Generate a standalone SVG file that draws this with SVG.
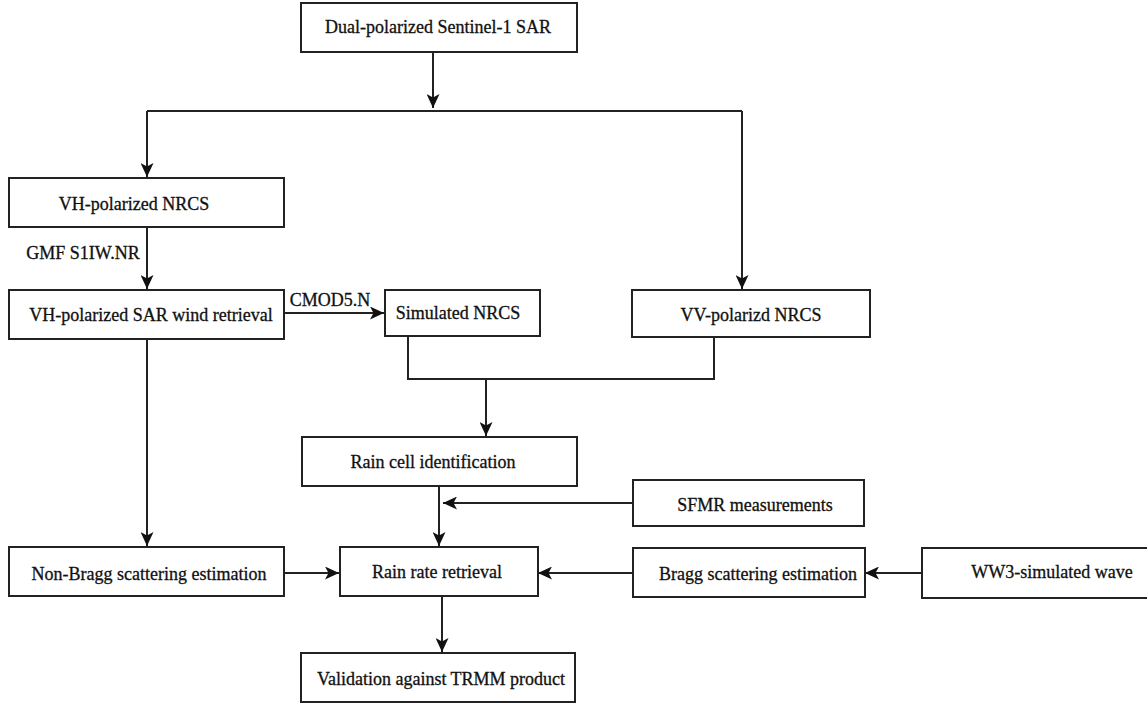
<svg xmlns="http://www.w3.org/2000/svg" width="1147" height="707" viewBox="0 0 1147 707">
<style>
.box{fill:#fff;stroke:#222;stroke-width:2}
.t{font-family:"Liberation Serif","Times New Roman",serif;font-size:18px;fill:#111;stroke:#111;stroke-width:0.3;text-anchor:middle}
.c{fill:none;stroke:#222;stroke-width:2}
.a{marker-end:url(#arr)}
</style>
<defs>
<marker id="arr" markerUnits="userSpaceOnUse" markerWidth="15" markerHeight="13" viewBox="0 0 15 13" refX="14" refY="6.5" orient="auto">
<path d="M0,0 L14,6.5 L0,13 L3.5,6.5 z" fill="#111"/>
</marker>
</defs>
<rect width="1147" height="707" fill="#fff"/>
<g id="connectors">
<path class="c a" d="M433,52 V108"/>
<path class="c" d="M147,111 H742"/>
<path class="c a" d="M147,111 V177"/>
<path class="c a" d="M742,111 V289"/>
<path class="c a" d="M147,227 V289"/>
<text class="t" x="83" y="259">GMF S1IW.NR</text>
<path class="c a" d="M284,313 H384"/>
<text class="t" x="330" y="306">CMOD5.N</text>
<path class="c" d="M408,336 V379 H714 V337"/>
<path class="c a" d="M486,379 V436"/>
<path class="c a" d="M147,339 V546"/>
<path class="c a" d="M439,487 V546"/>
<path class="c a" d="M632,503 H443"/>
<path class="c a" d="M284,573 H339"/>
<path class="c a" d="M632,573 H538"/>
<path class="c a" d="M921,573 H865"/>
<path class="c a" d="M442,596 V652"/>
</g>
<g id="n_dual"><rect class="box" x="301" y="3" width="276" height="49"/><text class="t" x="438" y="33">Dual-polarized Sentinel-1 SAR</text></g>
<g id="n_vh"><rect class="box" x="9" y="178" width="275" height="49"/><text class="t" x="134" y="210">VH-polarized NRCS</text></g>
<g id="n_vhwind"><rect class="box" x="9" y="290" width="275" height="49"/><text class="t" x="151" y="321">VH-polarized SAR wind retrieval</text></g>
<g id="n_sim"><rect class="box" x="385" y="290" width="155" height="46"/><text class="t" x="458" y="319">Simulated NRCS</text></g>
<g id="n_vv"><rect class="box" x="632" y="290" width="238" height="47"/><text class="t" x="751" y="321">VV-polarizd NRCS</text></g>
<g id="n_raincell"><rect class="box" x="302" y="437" width="275" height="49"/><text class="t" x="433" y="468">Rain cell identification</text></g>
<g id="n_sfmr"><rect class="box" x="633" y="480" width="231" height="46"/><text class="t" x="755" y="511">SFMR measurements</text></g>
<g id="n_nonbragg"><rect class="box" x="9" y="547" width="275" height="49"/><text class="t" x="149" y="580">Non-Bragg scattering estimation</text></g>
<g id="n_rainrate"><rect class="box" x="340" y="547" width="198" height="49"/><text class="t" x="437" y="578">Rain rate retrieval</text></g>
<g id="n_bragg"><rect class="box" x="633" y="548" width="232" height="49"/><text class="t" x="758" y="580">Bragg scattering estimation</text></g>
<g id="n_ww3"><rect class="box" x="922" y="548" width="240" height="50"/><text class="t" x="1052" y="578">WW3-simulated wave</text></g>
<g id="n_valid"><rect class="box" x="301" y="653" width="274" height="49"/><text class="t" x="441" y="685">Validation against TRMM product</text></g>
</svg>
